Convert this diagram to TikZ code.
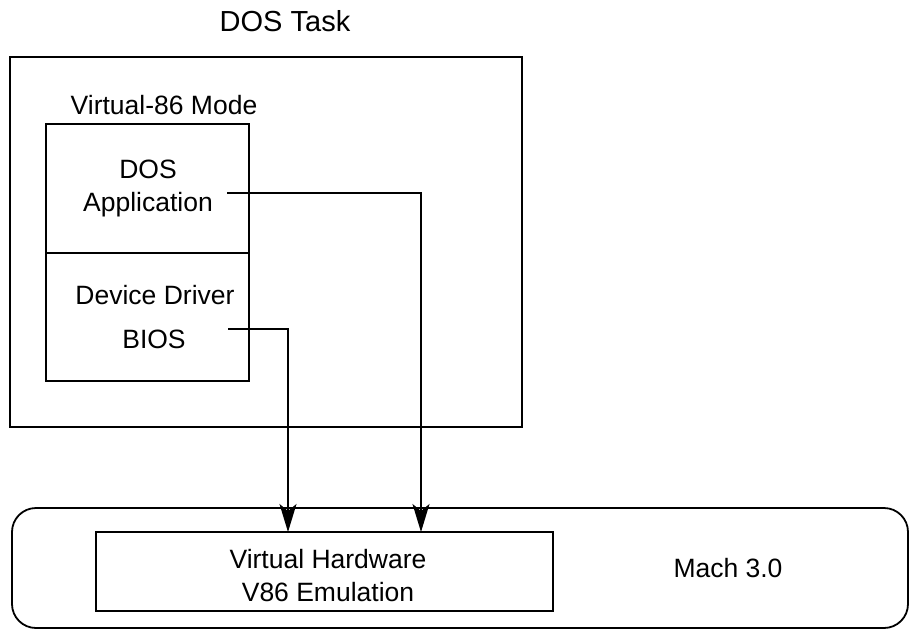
\documentclass[tikz,border=0pt]{standalone}
\usepackage{fontspec}
\setmainfont{Liberation Sans}
\usetikzlibrary{arrows.meta}
\begin{document}
\begin{tikzpicture}[x=1pt,y=-1pt,
  box/.style={draw,line width=1.8pt,rectangle,inner sep=0pt,outer sep=0pt},
  lbl/.style={font=\fontsize{26.5}{33}\selectfont,inner sep=0pt,align=center},
  conn/.style={line width=1.6pt,-{Stealth[length=28pt,width=17pt,inset=7pt]}}]
\useasboundingbox (0,0) rectangle (910,632);
% boxes
\node[box,minimum width=512pt,minimum height=370pt] (task) at (266,242) {};
\node[box,minimum width=203pt,minimum height=129pt] (app) at (147.5,188.5) {};
\node[box,minimum width=203pt,minimum height=128pt] (drv) at (147.5,317) {};
\node[box,rounded corners=24pt,minimum width=896pt,minimum height=120pt] (mach) at (460,568) {};
\node[box,minimum width=457pt,minimum height=79pt] (vh) at (324.5,571.5) {};
% texts
\node[lbl,font=\fontsize{29}{33}\selectfont] (title) at (285,21) {DOS Task};
\node[lbl] (v86) at (164,105) {Virtual-86 Mode};
\node[lbl] (apptxt) at (148,188.5) {DOS\\Application};
\node[lbl] (devtxt) at (155,295) {Device Driver};
\node[lbl] (bios) at (154,339) {BIOS};
\node[lbl] (vhtxt) at (328,575.5) {Virtual Hardware\\V86 Emulation};
\node[lbl] (machtxt) at (728,568) {Mach 3.0};
% connector ends
\coordinate (appout) at (227,193);
\coordinate (biosout) at (228,329);
\coordinate (tip1) at (421,532);
\coordinate (tip2) at (288,532);
\draw[conn] (appout) -| (tip1);
\draw[conn] (biosout) -| (tip2);
\end{tikzpicture}
\end{document}
